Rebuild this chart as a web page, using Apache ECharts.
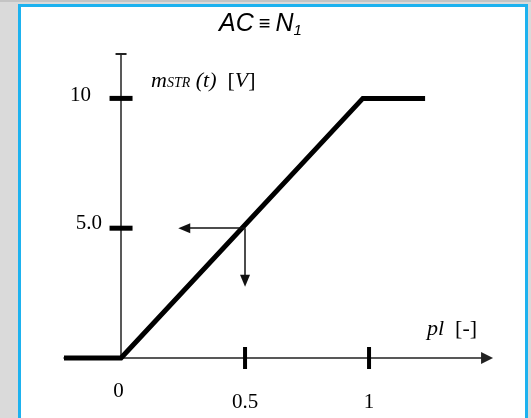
<!DOCTYPE html>
<html>
<head>
<meta charset="utf-8">
<script src="https://cdn.jsdelivr.net/npm/echarts@6/dist/echarts.min.js"></script>
<style>
  html, body { margin: 0; padding: 0; width: 531px; height: 418px; overflow: hidden; background: #dadada; }
  #band { position: absolute; left: 0; top: 0; width: 531px; height: 2px; background: #c4c4c4; }
  #frame { position: absolute; left: 18px; top: 4px; width: 510px; height: 460px; box-sizing: border-box;
           border: 3px solid #1db2ef; background: #ffffff; }
  #chart { position: absolute; left: 0; top: 0; width: 531px; height: 418px; }
</style>
</head>
<body>
<div id="band"></div>
<div id="frame"></div>
<div id="chart"></div>
<script>
// Characteristic: output m_STR(t) versus pl — dead zone, linear ramp, saturation
const rampX = [-0.23, 0, 0.975, 1.226];
const rampY = [0, 0, 10, 10];

// Axis ranges
const xMin = -0.23, xMax = 1.476;
const yMin = 0, yMax = 11.71;

// Tick positions and labels
const xTickValues = [0.5, 1];
const xTickLabels = [0, 0.5, 1];
const yTickValues = [5, 10];
const yTickText = { 5: '5.0', 10: '10' };

// Read-off example: pl = 0.5 gives 5.0 V
const readX = 0.5, readY = 5;
const arrowLeftTo = 0.255;
const arrowDownTo = 2.98;

const serif = 'Liberation Serif';
const sans = 'Liberation Sans';
const pxPerX = 248;

const chart = echarts.init(document.getElementById('chart'), null, { renderer: 'canvas' });

chart.setOption({
  animation: false,
  backgroundColor: 'transparent',
  title: [
    {
      text: '{i|AC} {e|≡} {i|N}{s|1}',
      left: 214, top: 6,
      textStyle: {
        fontWeight: 'normal',
        rich: {
          i: { fontFamily: sans, fontStyle: 'italic', fontWeight: 'normal', fontSize: 25, color: '#000' },
          e: { fontFamily: sans, fontWeight: 'normal', fontSize: 20, color: '#000' },
          s: { fontFamily: sans, fontStyle: 'italic', fontWeight: 'normal', fontSize: 15, color: '#000', padding: [12, 0, 0, 0] }
        }
      }
    },
    {
      text: '{m|m}{s|STR}{p| (t)  }{b|[}{v|V}{b|]}',
      left: 146, top: 65,
      textStyle: {
        fontWeight: 'normal',
        rich: {
          m: { fontFamily: serif, fontStyle: 'italic', fontWeight: 'normal', fontSize: 22, color: '#000' },
          s: { fontFamily: serif, fontStyle: 'italic', fontWeight: 'normal', fontSize: 14, color: '#000', padding: [5, 0, 0, 0] },
          p: { fontFamily: serif, fontStyle: 'italic', fontWeight: 'normal', fontSize: 22, color: '#000' },
          b: { fontFamily: serif, fontWeight: 'normal', fontSize: 22, color: '#000' },
          v: { fontFamily: serif, fontStyle: 'italic', fontWeight: 'normal', fontSize: 22, color: '#000' }
        }
      }
    },
    {
      text: '{i|pl}{n|  [-]}',
      left: 422, top: 313,
      textStyle: {
        fontWeight: 'normal',
        rich: {
          i: { fontFamily: serif, fontStyle: 'italic', fontWeight: 'normal', fontSize: 22, color: '#000' },
          n: { fontFamily: serif, fontWeight: 'normal', fontSize: 22, color: '#000' }
        }
      }
    }
  ],
  grid: { left: 64, top: 54, width: (xMax - xMin) * pxPerX, height: 304 },
  xAxis: {
    type: 'value', min: xMin, max: xMax,
    axisLine: {
      show: true, onZero: false,
      symbol: ['none', 'triangle'], symbolSize: [12, 12],
      lineStyle: { color: '#222', width: 1.5 }
    },
    axisTick: { show: false },
    splitLine: { show: false },
    axisLabel: {
      customValues: xTickLabels,
      margin: 23,
      formatter: v => (v === 0 ? '{z|0}' : '{d|' + v + '}'),
      rich: {
        z: { fontFamily: serif, fontSize: 21, color: '#000', padding: [0, 5, 0, 0] },
        d: { fontFamily: serif, fontSize: 21, color: '#000', padding: [11, 0, 0, 0] }
      }
    }
  },
  yAxis: {
    type: 'value', min: yMin, max: yMax,
    // shift the axis from the grid's left edge to pl = 0
    offset: xMin * pxPerX,
    axisLine: { show: true, onZero: false, lineStyle: { color: '#222', width: 1.5 } },
    axisTick: { show: false },
    splitLine: { show: false },
    axisLabel: {
      customValues: yTickValues,
      margin: 19,
      formatter: v => (v === 10 ? '{t|' + yTickText[v] + '}' : '{f|' + yTickText[v] + '}'),
      rich: {
        t: { fontFamily: serif, fontSize: 21, color: '#000', padding: [0, 11, 5, 0] },
        f: { fontFamily: serif, fontSize: 21, color: '#000', padding: [0, 0, 10, 0] }
      }
    }
  },
  series: [
    {
      type: 'line',
      data: rampX.map((x, i) => [x, rampY[i]]),
      symbol: 'none',
      clip: false,
      lineStyle: { color: '#000', width: 5, join: 'miter' },
      z: 4
    },
    {
      type: 'scatter',
      data: xTickValues.map(v => [v, 0]),
      symbol: 'rect', symbolSize: [4, 22],
      itemStyle: { color: '#000', opacity: 1 },
      clip: false, silent: true, z: 5
    },
    {
      type: 'scatter',
      data: yTickValues.map(v => [0, v]),
      symbol: 'rect', symbolSize: [23, 5],
      itemStyle: { color: '#000', opacity: 1 },
      clip: false, silent: true, z: 5
    },
    {
      type: 'scatter',
      data: [[0, yMax]],
      symbol: 'rect', symbolSize: [11, 2],
      itemStyle: { color: '#222', opacity: 1 },
      clip: false, silent: true, z: 5
    },
    {
      type: 'line',
      data: [[readX, readY]],
      showSymbol: false, symbol: 'none',
      lineStyle: { width: 0 },
      markLine: {
        silent: true,
        symbol: ['none', 'triangle'],
        symbolSize: [10, 12],
        label: { show: false },
        lineStyle: { color: '#111', width: 1.5, type: 'solid' },
        itemStyle: { color: '#111' },
        data: [
          [{ coord: [readX, readY] }, { coord: [arrowLeftTo, readY] }],
          [{ coord: [readX, readY] }, { coord: [readX, arrowDownTo] }]
        ]
      },
      z: 3
    }
  ]
});
</script>
</body>
</html>
